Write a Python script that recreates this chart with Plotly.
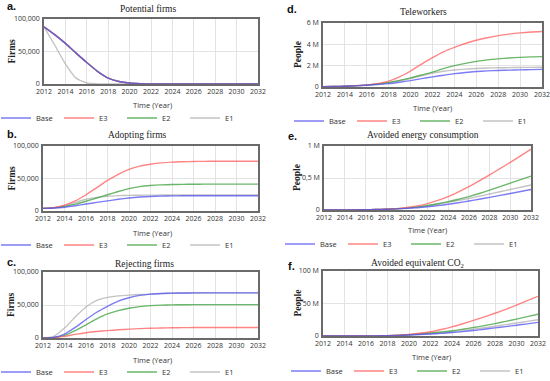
import plotly.graph_objects as go

W, H = 550, 381
years = list(range(2012, 2033))
x_ticks = list(range(2012, 2033, 2))
series_names = ["Base", "E3", "E2", "E1"]

# a. Potential firms
a_base = [88000, 76000, 62500, 47500, 33000, 19500, 9000, 3800, 1500, 600, 250, 100, 50, 0, 0, 0, 0, 0, 0, 0, 0]
a_e3 = [88000, 76000, 62500, 47500, 33000, 19500, 9000, 3800, 1500, 600, 250, 100, 50, 0, 0, 0, 0, 0, 0, 0, 0]
a_e2 = [88000, 76000, 62500, 47500, 33000, 19500, 9000, 3800, 1500, 600, 250, 100, 50, 0, 0, 0, 0, 0, 0, 0, 0]
a_e1 = [88000, 60000, 31000, 9000, 1500, 200, 0, 0, 0, 0, 0, 0, 0, 0, 0, 0, 0, 0, 0, 0, 0]
# b. Adopting firms
b_base = [4000, 4500, 5800, 8000, 10800, 13200, 15500, 18000, 20000, 21500, 22400, 22900, 23200, 23400, 23500, 23500, 23500, 23500, 23500, 23500, 23500]
b_e3 = [4000, 5000, 9000, 15500, 25000, 36000, 47000, 56500, 64000, 69000, 72000, 74000, 75200, 75800, 76200, 76400, 76500, 76500, 76500, 76500, 76500]
b_e2 = [4000, 4800, 7000, 10500, 15000, 20000, 25000, 30000, 34500, 37500, 39200, 40200, 40700, 41000, 41200, 41300, 41300, 41300, 41300, 41300, 41300]
b_e1 = [4000, 4900, 8000, 13000, 18000, 21000, 22800, 23700, 24100, 24300, 24400, 24500, 24500, 24500, 24500, 24500, 24500, 24500, 24500, 24500, 24500]
# c. Rejecting firms
c_base = [0, 1000, 6000, 16000, 28000, 39000, 48000, 56000, 61000, 64500, 66500, 67500, 68000, 68200, 68300, 68300, 68300, 68300, 68300, 68300, 68300]
c_e3 = [0, 500, 2500, 5500, 8000, 9800, 11200, 12400, 13400, 14200, 14800, 15200, 15500, 15700, 15800, 15900, 16000, 16000, 16000, 16000, 16000]
c_e2 = [0, 800, 4000, 11000, 20000, 29000, 36500, 41500, 45000, 47500, 49000, 49800, 50200, 50400, 50500, 50500, 50500, 50500, 50500, 50500, 50500]
c_e1 = [0, 2500, 15000, 32000, 47000, 57000, 61500, 63800, 65000, 65800, 66500, 67200, 67700, 68000, 68200, 68300, 68300, 68300, 68300, 68300, 68300]
# d. Teleworkers (millions)
d_base = [0.02, 0.04, 0.07, 0.11, 0.17, 0.24, 0.32, 0.45, 0.6, 0.78, 0.95, 1.1, 1.25, 1.36, 1.45, 1.51, 1.55, 1.58, 1.61, 1.63, 1.65]
d_e3 = [0.02, 0.04, 0.08, 0.13, 0.2, 0.32, 0.55, 0.95, 1.5, 2.15, 2.75, 3.3, 3.72, 4.08, 4.38, 4.62, 4.82, 4.96, 5.07, 5.15, 5.2]
d_e2 = [0.02, 0.04, 0.07, 0.12, 0.18, 0.28, 0.42, 0.62, 0.85, 1.12, 1.4, 1.72, 2.0, 2.22, 2.4, 2.54, 2.64, 2.72, 2.78, 2.82, 2.85]
d_e1 = [0.02, 0.04, 0.07, 0.12, 0.18, 0.27, 0.4, 0.58, 0.8, 1.05, 1.3, 1.48, 1.6, 1.68, 1.74, 1.78, 1.8, 1.82, 1.83, 1.84, 1.85]
# e. Avoided energy consumption (millions)
e_base = [0, 0, 0.001, 0.002, 0.004, 0.007, 0.011, 0.017, 0.025, 0.036, 0.05, 0.068, 0.09, 0.113, 0.14, 0.168, 0.198, 0.228, 0.258, 0.29, 0.32]
e_e3 = [0, 0, 0.001, 0.002, 0.004, 0.007, 0.012, 0.022, 0.04, 0.065, 0.1, 0.15, 0.21, 0.285, 0.365, 0.455, 0.55, 0.645, 0.745, 0.845, 0.95]
e_e2 = [0, 0, 0.001, 0.002, 0.004, 0.007, 0.012, 0.019, 0.03, 0.048, 0.07, 0.098, 0.13, 0.168, 0.21, 0.258, 0.31, 0.364, 0.42, 0.475, 0.53]
e_e1 = [0, 0, 0.001, 0.002, 0.004, 0.007, 0.012, 0.019, 0.029, 0.045, 0.065, 0.09, 0.12, 0.15, 0.18, 0.215, 0.25, 0.285, 0.32, 0.355, 0.39]
# f. Avoided equivalent CO2 (millions)
f_base = [0, 0, 0, 0.05, 0.1, 0.2, 0.4, 0.8, 1.5, 2.2, 3.0, 4.1, 5.3, 6.8, 8.5, 10.4, 12.5, 14.5, 16.5, 18.7, 21]
f_e3 = [0, 0, 0, 0.05, 0.1, 0.25, 0.5, 1.2, 2.5, 4.2, 6.5, 10, 14, 18.8, 24, 29.3, 35, 41, 47.5, 54.5, 61]
f_e2 = [0, 0, 0, 0.05, 0.1, 0.22, 0.45, 1.0, 2.0, 3.1, 4.5, 6.2, 8.0, 10.4, 13, 15.9, 19, 22.5, 26, 29.8, 33.5]
f_e1 = [0, 0, 0, 0.05, 0.1, 0.22, 0.45, 1.0, 1.8, 2.8, 3.8, 5.1, 6.5, 8.4, 10.5, 12.7, 15, 17.5, 20, 22.5, 25]

firm_ticks = [0, 50000, 100000]
firm_labels = ["0", "50,000", "100,000"]
d_ticks, d_labels = [0, 2, 4, 6], ["0", "2 M", "4 M", "6 M"]
e_ticks, e_labels = [0, 0.5, 1], ["0", "0,5 M", "1 M"]
f_ticks, f_labels = [0, 50, 100], ["0", "50 M", "100 M"]

colors = {"Base": "rgba(80,80,240,0.75)", "E3": "rgba(255,85,85,0.72)",
          "E2": "rgba(70,165,70,0.8)", "E1": "rgba(175,175,175,0.75)"}

panels = [
    dict(letter="a.", title="Potential firms", ytitle="Firms",
         data={"Base": a_base, "E3": a_e3, "E2": a_e2, "E1": a_e1},
         yt=firm_ticks, yl=firm_labels, yr=[0, 100000], box=(44, 258, 19, 84),
         tcx=148, tcy=9, lp=(11, 6), ytx=11, xtc=152, xty=105, legx=-4, legy=118),
    dict(letter="b.", title="Adopting firms", ytitle="Firms",
         data={"Base": b_base, "E3": b_e3, "E2": b_e2, "E1": b_e1},
         yt=firm_ticks, yl=firm_labels, yr=[0, 100000], box=(43, 258, 146, 211),
         tcx=137, tcy=135, lp=(12, 134), ytx=11, xtc=152, xty=233, legx=-4, legy=245),
    dict(letter="c.", title="Rejecting firms", ytitle="Firms",
         data={"Base": c_base, "E3": c_e3, "E2": c_e2, "E1": c_e1},
         yt=firm_ticks, yl=firm_labels, yr=[0, 100000], box=(43, 258, 272, 338),
         tcx=144, tcy=264, lp=(11, 262), ytx=11, xtc=152, xty=360, legx=-4, legy=372),
    dict(letter="d.", title="Teleworkers", ytitle="People",
         data={"Base": d_base, "E3": d_e3, "E2": d_e2, "E1": d_e1},
         yt=d_ticks, yl=d_labels, yr=[0, 6], box=(323, 542, 23, 87),
         tcx=423, tcy=12, lp=(292, 9), ytx=298, xtc=432, xty=108, legx=289, legy=121),
    dict(letter="e.", title="Avoided energy consumption", ytitle="People",
         data={"Base": e_base, "E3": e_e3, "E2": e_e2, "E1": e_e1},
         yt=e_ticks, yl=e_labels, yr=[0, 1], box=(324, 531, 146, 210),
         tcx=423, tcy=135, lp=(292, 136), ytx=297, xtc=427, xty=230, legx=280, legy=244),
    dict(letter="f.", title="Avoided equivalent CO<sub>2</sub>", ytitle="People",
         data={"Base": f_base, "E3": f_e3, "E2": f_e2, "E1": f_e1},
         yt=f_ticks, yl=f_labels, yr=[0, 100], box=(323, 538, 271, 336),
         tcx=417, tcy=263, lp=(291, 266), ytx=297, xtc=431, xty=357, legx=286, legy=371),
]

SANS = "Open Sans, DejaVu Sans, sans-serif"
SERIF = "Liberation Serif, Times New Roman, serif"

fig = go.Figure()
layout = dict(width=W, height=H, margin=dict(l=0, r=0, t=0, b=0, autoexpand=False),
              paper_bgcolor="white", plot_bgcolor="white", annotations=[])

def px(x):
    return x / W

def py(y):
    return 1 - y / H

for i, p in enumerate(panels, start=1):
    sfx = "" if i == 1 else str(i)
    leg = "legend" + sfx
    for name in ["E1", "E2", "E3", "Base"]:
        fig.add_trace(go.Scatter(
            x=years, y=p["data"][name], mode="lines", name=name,
            line=dict(color=colors[name], width=1.4, shape="spline", smoothing=0.6),
            xaxis="x" + sfx, yaxis="y" + sfx, legend=leg, showlegend=True))
    x0, x1, y0, y1 = p["box"]
    layout["xaxis" + sfx] = dict(
        domain=[px(x0), px(x1)], anchor="y" + sfx, range=[2012, 2032],
        tickvals=x_ticks, ticktext=[str(t) for t in x_ticks], tickangle=0,
        ticklabeloverflow="allow",
        showgrid=True, gridcolor="#e3e3e3", gridwidth=1,
        showline=True, linecolor="#6a6a6a", linewidth=1.5, mirror=True,
        ticks="", zeroline=False, tickfont=dict(family=SANS, size=7, color="#333"))
    layout["yaxis" + sfx] = dict(
        domain=[py(y1), py(y0)], anchor="x" + sfx, range=p["yr"],
        tickvals=p["yt"], ticktext=p["yl"],
        showgrid=True, gridcolor="#e3e3e3", gridwidth=1,
        showline=True, linecolor="#6a6a6a", linewidth=1.5, mirror=True,
        ticks="", ticklabelstandoff=1, zeroline=False,
        tickfont=dict(family=SANS, size=7, color="#333"))
    layout[leg] = dict(
        orientation="h", x=px(p["legx"]), y=py(p["legy"]), xanchor="left", yanchor="middle",
        xref="paper", yref="paper", traceorder="reversed", entrywidth=18, entrywidthmode="pixels",
        itemwidth=30, bgcolor="rgba(0,0,0,0)", font=dict(family=SANS, size=7.5, color="#333"))
    ann = layout["annotations"]
    ann.append(dict(text=p["title"], x=px(p["tcx"]), y=py(p["tcy"]), xref="paper", yref="paper",
                    showarrow=False, xanchor="center", yanchor="middle",
                    font=dict(family=SERIF, size=9.5, color="#222")))
    ann.append(dict(text="<b>" + p["letter"] + "</b>", x=px(p["lp"][0]), y=py(p["lp"][1]),
                    xref="paper", yref="paper", showarrow=False, xanchor="center", yanchor="middle",
                    font=dict(family="Liberation Sans, Arial, sans-serif", size=11, color="#111")))
    ann.append(dict(text="<b>" + p["ytitle"] + "</b>", x=px(p["ytx"]), y=py((y0 + y1) / 2),
                    xref="paper", yref="paper", showarrow=False, textangle=-90,
                    xanchor="center", yanchor="middle",
                    font=dict(family=SERIF, size=9.5, color="#222")))
    ann.append(dict(text="Time (Year)", x=px(p["xtc"]), y=py(p["xty"]), xref="paper", yref="paper",
                    showarrow=False, xanchor="center", yanchor="middle",
                    font=dict(family=SANS, size=7.5, color="#333")))

fig.update_layout(**layout)
fig.write_html("out.html", config={"displayModeBar": False},
               post_script="document.body.style.margin='0';document.body.style.overflow='hidden';")
